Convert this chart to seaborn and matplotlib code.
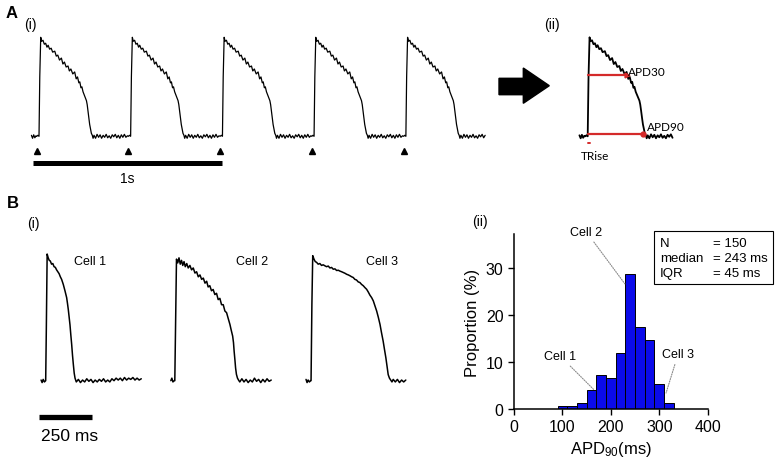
import numpy as np
import pandas as pd
import matplotlib
matplotlib.use("Agg")
import matplotlib.pyplot as plt
import seaborn as sns
from matplotlib.patches import Polygon, Rectangle

# ---------------- data ----------------
# Panel A(i): one paced action potential (time ms from stimulus, % of amplitude)
PRE_T = [-28, -22, -16, -10, -4]
PRE_V = [1, -2, 1.5, -1.5, 0.5]
BEAT_T = [0, 6, 12, 16, 21, 26, 33, 40, 47, 54, 60, 68, 76, 84, 95, 103, 111, 120, 130, 138,
          146, 155, 165, 172, 180, 190, 200, 208, 215, 222, 227, 233, 238, 244, 250, 256, 262,
          266, 270, 275, 279, 284, 288, 293, 297, 302, 310, 318, 326, 334, 342, 350, 358, 366,
          374, 382, 390, 398, 406, 414, 422, 430, 438, 446, 454, 462, 470, 478]
BEAT_V = [0, 1, 0, 60, 100, 96, 97, 93, 94, 90, 92, 88, 89, 85, 86, 81, 82, 77, 79, 73,
          75, 70, 71, 66, 68, 63, 65, 58, 60, 54, 55, 49, 50, 45, 42, 39, 36,
          32, 26, 18, 12, 7, 3, 1, -2, 1, -2, 2, -1, 1.5, -2, 1, -1, 2,
          -1.5, 0.5, -2, 1.5, -0.5, 2, -1.5, 1, -2, 1.5, -1, 2, -1, 0.5]
STIM_TIMES = [0, 483, 967, 1450, 1934]
LAST_BEAT_END = 432
ZOOM_BEAT_END = 424

# Panel A(ii): measured APD levels on the zoomed beat (t_start, t_end, level)
APD30 = (12, 204, 62)
APD90 = (12, 280, 2.5)
TRISE = (12, 24, -7)

# Panel B(i): three example cells
CELL1_T = [-22, -17, -12, -6, 0, 3, 7, 12, 17, 22, 28, 34, 40, 46, 52, 58, 64, 70, 76, 84,
           92, 100, 104, 108, 112, 116, 120, 124, 128, 132, 136, 140, 146, 156, 166, 176, 186,
           196, 206, 216, 226, 236, 246, 256, 266, 276, 286, 296, 306, 316, 326, 336, 346, 356,
           366, 376, 386, 396, 406, 416, 426, 436, 446, 456]
CELL1_V = [0.5, -1.5, 1, -1, 0, 40, 100, 97, 95, 94.5, 92, 92.5, 90, 89.5, 87.5, 86, 84.5, 82, 80, 76,
           71, 65.6, 61, 56, 50, 44, 36, 28.6, 20, 12.7, 6, 2, -1, 1, -1.5, 0.5, -1,
           1.5, -0.5, 1, -1.5, 0.5, -1, 1, -0.5, 1.5, -1, 0.5, -1, 1.5, 0, 2, 0.5, 2,
           0, 2.5, 0.5, 2, 1, 2.5, 0.5, 2, 0.5, 1.5]
CELL2_T = [-16, -11, -6, 0, 3, 8, 11, 17, 23, 29, 35, 41, 47, 53, 60, 67, 75, 83, 91, 99,
           107, 115, 123, 131, 139, 147, 155, 162, 170, 178, 186, 194, 202, 210, 218, 226, 234,
           242, 250, 258, 266, 272, 279, 283, 286, 290, 293, 297, 302, 307, 313,
           323, 333, 343, 353, 363, 373, 383, 393, 403, 413, 423, 433, 443, 453, 463]
CELL2_V = [0, 2, -1, 0, 0, 60, 96, 93, 97, 92, 95, 91, 94, 90, 92.5, 89, 91, 87.5, 89, 85,
           86, 82, 83.5, 80, 81, 77, 78.5, 74, 75, 71, 72, 68, 69, 64, 65, 60, 60,
           55, 53.7, 49, 44.4, 40, 35.2, 30, 23.3, 16, 10, 5, 2, 0.5, -1,
           1.5, -1, 1, -1.5, 0.5, -1, 2, -0.5, 1, -1.5, 1, -1, 1.5, -0.5, 0.5]
CELL3_T = [-22, -17, -12, -6, 0, 2, 6, 10, 16, 22, 28, 36, 44, 52, 60, 68, 76, 84, 92, 100,
           108, 116, 124, 132, 140, 148, 156, 164, 172, 180, 188, 196, 203, 211, 219, 227, 235,
           243, 251, 259, 267, 275, 283, 291, 299, 307, 315, 323, 331, 338, 346, 352, 359, 364,
           370, 376, 382, 388, 394, 404, 414, 424, 434, 444, 454]
CELL3_V = [1, -1.5, 0.5, -1, 0, 0, 60, 98.7, 96, 94, 93.5, 92, 92.5, 91, 91.5, 90.7, 90, 90.5, 89, 89.4,
           88, 88.3, 87, 87.2, 86.5, 86, 85.4, 84.8, 84, 83.5, 82.8, 82, 81.5, 80, 79.5, 78, 77.5,
           76, 75, 73.5, 72.2, 70, 67.5, 65.6, 63, 59, 55, 50, 44.4, 38, 31.2, 25, 18, 12,
           4.8, 2, 0.5, -1, 1, -1, 1, -1.5, 0.5, -1, 0.5]
CELL_NAMES = ["Cell 1", "Cell 2", "Cell 3"]

# Panel B(ii): APD90 histogram
BIN_EDGES = [90, 110, 130, 150, 170, 190, 210, 230, 250, 270, 290, 310, 330]
COUNTS = [1, 1, 2, 6, 11, 10, 18, 43, 26, 22, 8, 2]
N_CELLS = 150
STATS_LABELS = ["N", "median", "IQR"]
STATS_VALUES = ["= 150", "= 243 ms", "= 45 ms"]

# ---------------- style ----------------
sns.set_theme(style="ticks")
plt.rcParams["font.family"] = ["Liberation Sans", "DejaVu Sans"]
plt.rcParams["text.color"] = "black"
plt.rcParams["axes.labelcolor"] = "black"
plt.rcParams["xtick.color"] = "black"
plt.rcParams["ytick.color"] = "black"
plt.rcParams["mathtext.fontset"] = "custom"
plt.rcParams["mathtext.rm"] = "Liberation Sans"
plt.rcParams["mathtext.it"] = "Liberation Sans:italic"
plt.rcParams["mathtext.bf"] = "Liberation Sans:bold"

W, H = 780, 464
fig = plt.figure(figsize=(W / 100, H / 100), dpi=100)
fig.patch.set_facecolor("white")


def rect(l, t, r, b):
    return [l / W, 1 - b / H, (r - l) / W, (b - t) / H]


def ftext(x, y, s, **kw):
    kw.setdefault("ha", "center")
    kw.setdefault("va", "center")
    kw.setdefault("color", "black")
    fig.text(x / W, 1 - y / H, s, **kw)


RED = "#D42A2A"

# ---------------- A(i) ----------------
axA = fig.add_axes(rect(28.2, 28.4, 492.0, 167.0))
parts = [pd.DataFrame({"t": PRE_T, "v": PRE_V})]
for i, s in enumerate(STIM_TIMES):
    b = pd.DataFrame({"t": np.array(BEAT_T) + s, "v": BEAT_V})
    if i == len(STIM_TIMES) - 1:
        b = b[np.array(BEAT_T) <= LAST_BEAT_END]
    parts.append(b)
traceA = pd.concat(parts, ignore_index=True)
sns.lineplot(data=traceA, x="t", y="v", estimator=None, sort=False, color="black",
             lw=0.9, ax=axA)
axA.plot(STIM_TIMES, [-14.5] * len(STIM_TIMES), linestyle="none", marker="^",
         color="black", markersize=4.5)
axA.plot([-21, 979], [-27, -27], color="black", lw=3.6, solid_capstyle="butt")
axA.set_xlim(-45, 2400)
axA.set_ylim(-30, 110)
axA.axis("off")

ftext(12, 14, "A", fontsize=12, fontweight="bold")
ftext(30, 25, "(i)", fontsize=10)
ftext(127, 179, "1s", fontsize=10)

# big arrow
arrow_px = [(499, 79.3), (523.3, 79.3), (523.3, 69), (549.3, 86.7), (523.3, 104.3),
            (523.3, 95.7), (499, 95.7)]
fig.patches.append(Polygon([(x / W, 1 - y / H) for x, y in arrow_px], closed=True,
                           transform=fig.transFigure, facecolor="black",
                           edgecolor="black", figure=fig))

# ---------------- A(ii) ----------------
axZ = fig.add_axes(rect(575.9, 28.4, 680.4, 167.0))
zoom_df = pd.concat([pd.DataFrame({"t": PRE_T, "v": PRE_V}),
                     pd.DataFrame({"t": BEAT_T, "v": BEAT_V})], ignore_index=True)
zoom_df = zoom_df[zoom_df["t"] <= ZOOM_BEAT_END]
sns.lineplot(data=zoom_df, x="t", y="v", estimator=None, sort=False, color="black",
             lw=1.3, ax=axZ)
for (t0, t1, lev), mk in ((APD30, ">"), (APD90, "o")):
    axZ.plot([t0, t1], [lev, lev], color=RED, lw=1.6)
    axZ.plot([t1], [lev], marker=mk, color=RED, markersize=3.5)
axZ.plot([TRISE[0], TRISE[1]], [TRISE[2], TRISE[2]], color=RED, lw=1.4)
axZ.set_xlim(-45, 460)
axZ.set_ylim(-30, 110)
axZ.axis("off")

ftext(552, 24.5, "(ii)", fontsize=10)
ftext(628, 72, "APD30", fontsize=8.5, ha="left", family=["Lato", "DejaVu Sans"])
ftext(647, 127.7, "APD90", fontsize=8.5, ha="left", family=["Lato", "DejaVu Sans"])
ftext(581, 156.7, "TRise", fontsize=8.5, ha="left", family=["Lato", "DejaVu Sans"])

# ---------------- B(i) ----------------
axB = fig.add_axes(rect(37.3, 248.7, 414.6, 426.0))
cell_offsets = [0, 613, 1264]
cells = []
for name, tt, vv, off in zip(CELL_NAMES, (CELL1_T, CELL2_T, CELL3_T),
                             (CELL1_V, CELL2_V, CELL3_V), cell_offsets):
    cells.append(pd.DataFrame({"t": np.array(tt) + off, "v": vv, "cell": name}))
cell_df = pd.concat(cells, ignore_index=True)
sns.lineplot(data=cell_df, x="t", y="v", units="cell", estimator=None, sort=False,
             color="black", lw=1.1, ax=axB)
axB.plot([-30, 220], [-28.9, -28.9], color="black", lw=3.8, solid_capstyle="butt")
axB.set_xlim(-40, 1760)
axB.set_ylim(-35, 105)
axB.axis("off")

ftext(12.5, 203, "B", fontsize=12, fontweight="bold")
ftext(33, 224, "(i)", fontsize=10)
for name, x in zip(CELL_NAMES, (90.5, 251.7, 381.5)):
    ftext(x, 262, name, fontsize=9)
ftext(70, 437, "250 ms", fontsize=12.5)

# ---------------- B(ii) histogram ----------------
axH = fig.add_axes(rect(514, 235, 707.7, 410))
centers = [(a + b) / 2 for a, b in zip(BIN_EDGES[:-1], BIN_EDGES[1:])]
proportion = [c / N_CELLS * 100 for c in COUNTS]
sns.histplot(x=centers, weights=proportion, bins=BIN_EDGES, color="#0B0BEA",
             edgecolor="black", linewidth=0.7, alpha=1, ax=axH)
axH.set_xlim(0, 400)
axH.set_ylim(0, 37.2)
axH.set_xticks([0, 100, 200, 300, 400])
axH.set_yticks([0, 10, 20, 30])
axH.tick_params(axis="both", direction="out", length=4, width=1, labelsize=11.5,
                color="black", labelcolor="black")
sns.despine(ax=axH)
for sp in ("left", "bottom"):
    axH.spines[sp].set_color("black")
    axH.spines[sp].set_linewidth(1.1)
axH.set_xlabel(r"APD$_{90}$(ms)", fontsize=12, color="black", labelpad=3)
axH.set_ylabel("Proportion (%)", fontsize=12, color="black", labelpad=4)

leader = dict(arrowstyle="-", color="#8a8a8a", lw=0.8, linestyle=(0, (1, 1.2)),
              shrinkA=1, shrinkB=0)
for name, tip, txt in (("Cell 1", (165, 4.1), (95, 11.3)),
                       ("Cell 2", (229, 26.6), (149, 37.7)),
                       ("Cell 3", (314, 3.4), (339, 11.7))):
    axH.annotate(name, xy=tip, xytext=txt, ha="center", va="center", fontsize=9,
                 color="black", arrowprops=leader, annotation_clip=False)

ftext(480, 222, "(ii)", fontsize=10)

fig.patches.append(Rectangle((654 / W, 1 - 285 / H), (773 - 654) / W, (285 - 232) / H,
                             transform=fig.transFigure, fill=False, edgecolor="black",
                             lw=0.8, figure=fig))
for lab, val, y in zip(STATS_LABELS, STATS_VALUES, (244, 259.3, 274.3)):
    ftext(660, y, lab, fontsize=9.5, ha="left")
    ftext(713, y, val, fontsize=9.5, ha="left")

fig.savefig("out.png", dpi=100, facecolor="white")
